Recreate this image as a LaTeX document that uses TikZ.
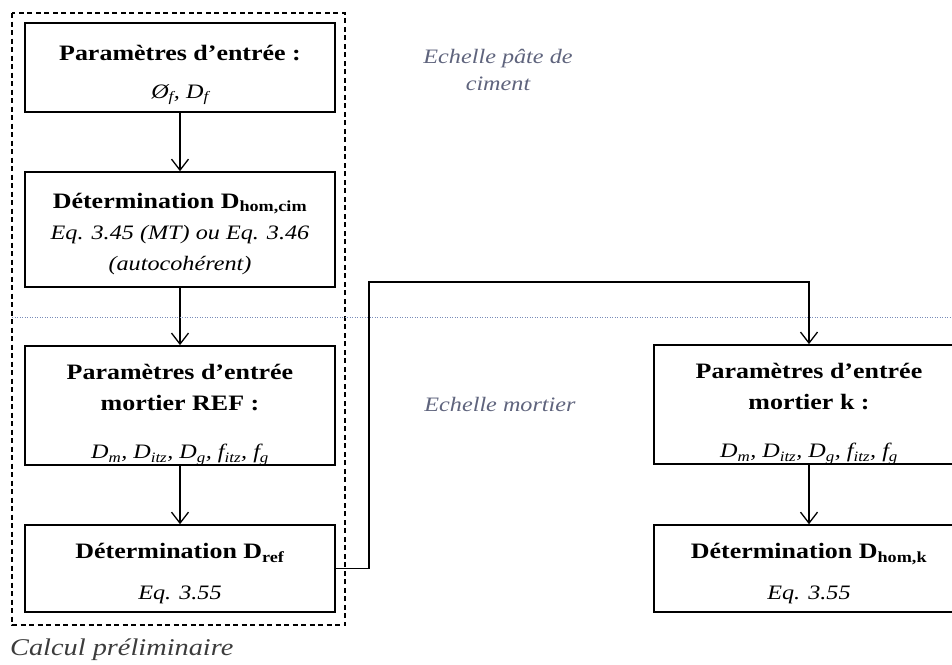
\documentclass[tikz,border=0pt]{standalone}
\usepackage{fontspec}
\setmainfont{Liberation Serif}[FakeStretch=1.18]
\usetikzlibrary{arrows.meta}

\definecolor{scaletext}{RGB}{95,100,125}
\definecolor{scaleline}{RGB}{120,140,185}
\definecolor{prelimtext}{RGB}{60,60,60}

% titre en gras, un peu plus grand que le corps
\newcommand\ttl[1]{{\fontsize{22}{31}\selectfont\bfseries #1}}
% entretoise pour descendre le texte dans la boite
\newcommand\tstrut[1]{\rule{0pt}{#1}}

\begin{document}
\begin{tikzpicture}[x=1pt, y=-1pt,
  box/.style={draw, line width=1.6pt, minimum width=310pt, minimum height=#1,
              inner sep=0pt, align=center, font=\fontsize{20.5}{31}\selectfont},
  arr/.style={-{Straight Barb[length=11pt, width=17pt, line width=1.3pt]}, line width=1.3pt},
  lbl/.style={text=scaletext, align=center, font=\fontsize{20.5}{27}\selectfont\itshape}
]
  \useasboundingbox (0,0) rectangle (952,664);

  % calcul preliminaire (mortier REF)
  \node[box=89pt]  (inp)  at (180,67.5)
    {\tstrut{30pt}\ttl{Paramètres d’entrée :}\\[7pt]\textit{Ø\textsubscript{f}, D\textsubscript{f}}};
  \node[box=115pt] (dhom) at (180,229.5)
    {\tstrut{24pt}\ttl{Détermination D\textsubscript{hom,cim}}\\[0pt]\textit{Eq. 3.45 (MT) ou Eq. 3.46}\\\textit{(autocohérent)}};
  \node[box=117pt] (inpref) at (180,405.5)
    {\tstrut{34pt}\ttl{Paramètres d’entrée}\\\ttl{mortier REF :}\\[17pt]
     \textit{D\textsubscript{m}, D\textsubscript{itz}, D\textsubscript{g}, f\textsubscript{itz}, f\textsubscript{g}}};
  \node[box=87pt]  (dref) at (180,568.5)
    {\tstrut{26pt}\ttl{Détermination D\textsubscript{ref}}\\[10pt]\textit{Eq. 3.55}};

  % mortier k
  \node[box=117pt] (inpk) at (809,404.5)
    {\tstrut{34pt}\ttl{Paramètres d’entrée}\\\ttl{mortier k :}\\[17pt]
     \textit{D\textsubscript{m}, D\textsubscript{itz}, D\textsubscript{g}, f\textsubscript{itz}, f\textsubscript{g}}};
  \node[box=87pt]  (dhomk) at (809,568.5)
    {\tstrut{26pt}\ttl{Détermination D\textsubscript{hom,k}}\\[10pt]\textit{Eq. 3.55}};

  \draw[dashed, line width=1.2pt, dash pattern=on 5pt off 3.5pt] (12,13) rectangle (345,625);

  \draw[arr] (inp) -- (dhom);
  \draw[arr] (dhom) -- (inpref);
  \draw[arr] (inpref) -- (dref);
  \draw[arr] (inpk) -- (dhomk);

  \coordinate (bend) at (369,282);
  \draw[arr] (dref.east) -| (bend) -| (inpk.north);

  % limite entre les echelles
  \draw[scaleline, line width=1pt, dash pattern=on 1pt off 1.5pt] (12,317) -- (952,317);

  \node[lbl] (scim)  at (498,70)  {Echelle pâte de\\ciment};
  \node[lbl] (smort) at (500,404) {Echelle mortier};
  \node[anchor=west, inner sep=0pt, text=prelimtext,
        font=\fontsize{24}{28}\selectfont\itshape] (prelim) at (10,650) {Calcul préliminaire};
\end{tikzpicture}
\end{document}
